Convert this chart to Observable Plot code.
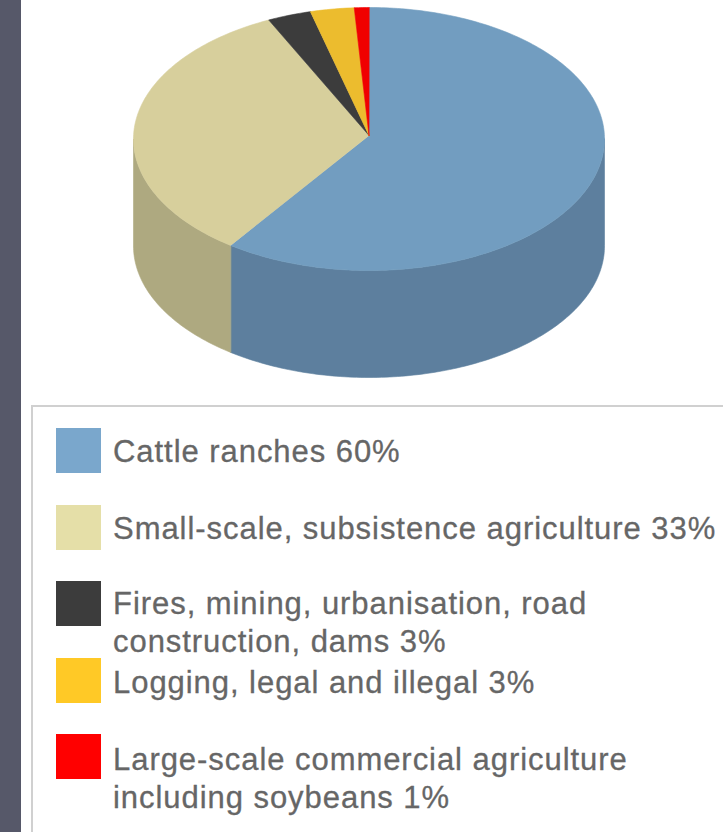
<!DOCTYPE html>
<html>
<head>
<meta charset="utf-8">
<script src="https://cdn.jsdelivr.net/npm/d3@7"></script>
<script src="https://cdn.jsdelivr.net/npm/@observablehq/plot@0.6"></script>
<style>
  html, body { margin: 0; padding: 0; background: #fff; }
  body { position: relative; width: 723px; height: 832px; overflow: hidden; font-family: "Liberation Sans", Arial, sans-serif; }
  #band { position: absolute; left: 0; top: 0; width: 21px; height: 832px; background: #565869; }
  #chart { position: absolute; left: 0; top: 0; }
  #chart svg { display: block; background: transparent; }
  #legend { position: absolute; left: 31px; top: 405px; width: 720px; height: 460px; border: 2px solid #d0d0d0; box-sizing: border-box; }
  .row { position: absolute; left: 23px; height: 76.5px; display: flex; width: 680px; }
  .swatch { width: 45px; height: 45px; flex: none; }
  .label { margin: 5px 0 0 12px; font-size: 31px; line-height: 38px; letter-spacing: 0.95px; color: #666; -webkit-text-stroke: 0.3px #666; white-space: pre-line; }
  .row:nth-child(3) .label { margin-top: 4px; }
  .row:nth-child(4) .label { margin-top: 6px; }
  .row:nth-child(5) .label { margin-top: 7px; }
</style>
</head>
<body>
<div id="band"></div>
<div id="chart"></div>
<div id="legend"></div>
<script>
// Causes of Amazon deforestation, share of cleared land in percent
const causes = [
  "Cattle ranches",
  "Small-scale, subsistence agriculture",
  "Fires, mining, urbanisation, road\nconstruction, dams",
  "Logging, legal and illegal",
  "Large-scale commercial agriculture\nincluding soybeans"
];
const shares = [60, 33, 3, 3, 1];
const topColors = ["#729dc0", "#d7cf9c", "#3c3c3c", "#ecbc2e", "#f00000"];
const wallColors = ["#5d7f9e", "#aea980", "#2e2e2e", "#b8932a", "#b80000"];
const swatchColors = ["#7aa7cc", "#e5dfa8", "#3c3c3c", "#ffc926", "#ff0000"];

// Seen in perspective, the slices meet slightly above the middle of the ellipse
const apexLift = 0.027;
const wallDepth = 107 / 131.5;

function rimPoint(deg, drop = 0) {
  const a = deg * Math.PI / 180;
  return { x: Math.sin(a), y: Math.cos(a) - drop };
}

// Start and end angle of every slice, clockwise from twelve o'clock
let running = 0;
const arcs = shares.map((share, i) => {
  const start = running * 3.6;
  running += share;
  return { i, start, end: running * 3.6 };
});

function arcAngles(start, end) {
  const out = [];
  for (let d = start; d < end; d += 1) out.push(d);
  out.push(end);
  return out;
}

const topFaces = arcs.flatMap(({ i, start, end }) => [
  { x: 0, y: apexLift, slice: i, color: topColors[i] },
  ...arcAngles(start, end).map(d => ({ ...rimPoint(d), slice: i, color: topColors[i] }))
]);

// Only the part of the rim facing the viewer (90 to 270 degrees) shows a wall
const walls = arcs.flatMap(({ i, start, end }) => {
  const from = Math.max(start, 90), to = Math.min(end, 270);
  if (from >= to) return [];
  const angles = arcAngles(from, to);
  return [
    ...angles.map(d => ({ ...rimPoint(d), slice: i, color: wallColors[i] })),
    ...angles.slice().reverse().map(d => ({ ...rimPoint(d, wallDepth), slice: i, color: wallColors[i] }))
  ];
});

const faceMark = rows => Plot.line(rows, {
  x: "x", y: "y", z: "slice", fill: "color", stroke: "color", strokeWidth: 0.6, curve: "linear-closed"
});

const chart = Plot.plot({
  width: 723,
  height: 400,
  margin: 0,
  x: { domain: [-1, 1], range: [133, 604], axis: null },
  y: { domain: [1, -1 - wallDepth], range: [7, 377], axis: null },
  color: { type: "identity" },
  marks: [faceMark(walls), faceMark(topFaces)]
});
document.getElementById("chart").append(chart);

// Legend rows stacked below the pie
const legend = document.getElementById("legend");
causes.forEach((cause, i) => {
  const row = document.createElement("div");
  row.className = "row";
  row.style.top = (21 + i * 76.5) + "px";
  const swatch = document.createElement("div");
  swatch.className = "swatch";
  swatch.style.background = swatchColors[i];
  const label = document.createElement("div");
  label.className = "label";
  label.textContent = `${cause} ${shares[i]}%`;
  row.append(swatch, label);
  legend.append(row);
});
</script>
</body>
</html>
